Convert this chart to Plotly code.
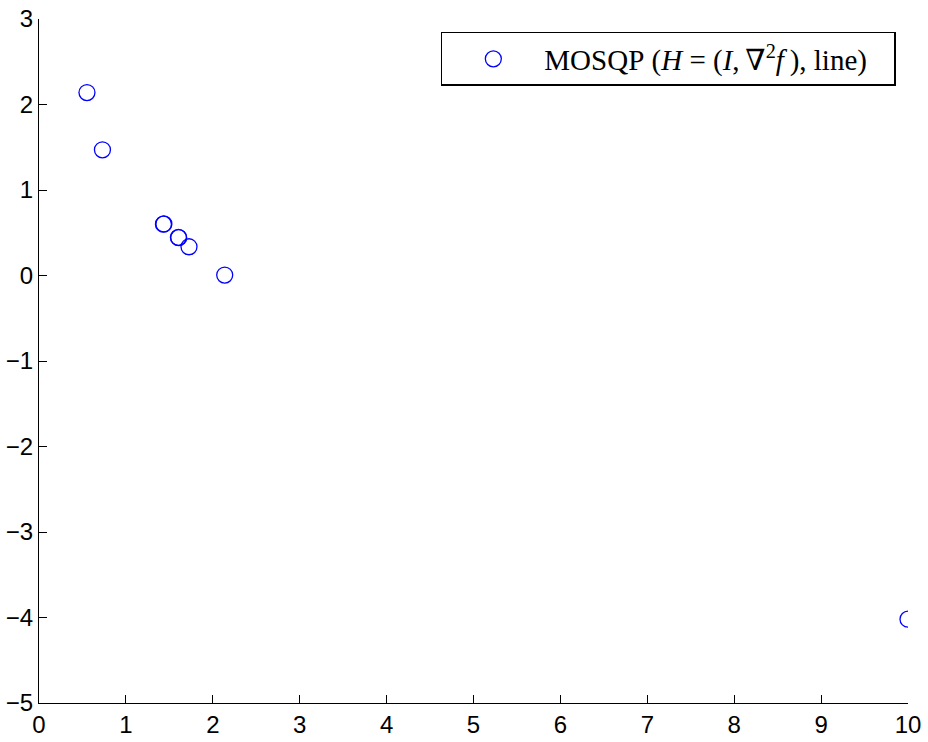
import plotly.graph_objects as go

x_vals = [0.552, 0.730, 1.432, 1.437, 1.604, 1.608, 1.726, 2.137, 10.0]
y_vals = [2.14, 1.47, 0.60, 0.603, 0.446, 0.442, 0.336, 0.005, -4.02]
series_name = ("MOSQP\u00a0(<i>H</i>\u00a0=\u00a0(<i>I</i>,\u2009∇<sup>2</sup><i>f</i>\u2009),"
               "\u00a0line)\u00a0\u00a0\u00a0")
x_ticks = list(range(0, 11))
y_ticks = list(range(-5, 4))

fig = go.Figure()
fig.add_trace(go.Scatter(
    x=x_vals, y=y_vals, mode="markers", name=series_name,
    marker=dict(symbol="circle-open", size=16, color="#0000ff", line=dict(width=1.3, color="#0000ff")),
))

axis_common = dict(
    showgrid=False, zeroline=False, showline=True, linecolor="black", linewidth=1,
    ticks="inside", ticklen=8, tickwidth=1, tickcolor="black", mirror=False,
    automargin=False, ticklabeloverflow="allow",
    tickfont=dict(family="Liberation Sans, Arial, sans-serif", size=24, color="black"),
)
fig.update_xaxes(range=[0, 10], tickvals=x_ticks, ticktext=[str(v) for v in x_ticks], **axis_common)
fig.update_yaxes(range=[-5, 3], tickvals=y_ticks,
                 ticktext=[str(v).replace("-", "\u2212") for v in y_ticks], **axis_common)

fig.update_layout(
    width=928, height=742,
    margin=dict(l=39, r=20, t=19, b=39),
    plot_bgcolor="white", paper_bgcolor="white",
    showlegend=True,
    legend=dict(
        x=0.986, y=0.981, xanchor="right", yanchor="top",
        bgcolor="white", bordercolor="black", borderwidth=1.5,
        itemwidth=92,
        font=dict(family="Liberation Serif, DejaVu Serif, serif", size=29, color="black"),
    ),
)
fig.write_html("out.html", config={"displayModeBar": False},
               post_script="document.body.style.margin='0';")
